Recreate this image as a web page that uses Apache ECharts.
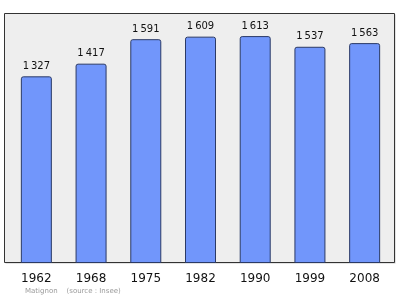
<!DOCTYPE html>
<html><head><meta charset="utf-8">
<script src="https://cdn.jsdelivr.net/npm/echarts@6/dist/echarts.min.js"></script>
<style>html,body{margin:0;padding:0;background:#fff}#c{width:400px;height:299px}</style>
</head><body><div id="c"></div>
<script>
const years = ['1962','1968','1975','1982','1990','1999','2008'];
const population = [1327, 1417, 1591, 1609, 1613, 1537, 1563];
const footerText = 'Matignon    (source : Insee)';

const chart = echarts.init(document.getElementById('c'), null, {renderer:'canvas'});
function fmt(v){ const s = String(v); return s.length > 3 ? s.slice(0, s.length-3) + '\u2009' + s.slice(-3) : s; }
chart.setOption({
  animation:false,
  backgroundColor:'#ffffff',
  graphic:[
    {type:'rect', z:-10, shape:{x:5.5,y:14.5,width:390,height:249}, style:{fill:'#c8c8c8', stroke:null}},
    {type:'rect', z:-9, shape:{x:4.5,y:13.5,width:390,height:249}, style:{fill:'#eeeeee', stroke:'#333333', lineWidth:1}},
    {type:'text', left:25, top:288, style:{text:footerText, fill:'#9a9a9a', font:'7px "DejaVu Sans", sans-serif'}}
  ],
  grid:{left:9, right:8, top:14, bottom:36, containLabel:false},
  xAxis:{type:'category', data:years, axisLine:{show:false}, axisTick:{show:false},
    axisLabel:{color:'#111', fontSize:12, fontFamily:'"DejaVu Sans", sans-serif', margin:10}},
  yAxis:{type:'value', min:0, max:1770, show:false, splitLine:{show:false}},
  series:[{type:'bar', data:population, barWidth:31,
    itemStyle:{color:'#7196fb', borderColor:'#2b3a66', borderWidth:1, borderRadius:[2,2,0,0]},
    label:{show:true, position:'top', distance:5, color:'#111', fontSize:10,
      fontFamily:'"DejaVu Sans", sans-serif', formatter:p=>fmt(p.value)}}]
});
</script></body></html>
